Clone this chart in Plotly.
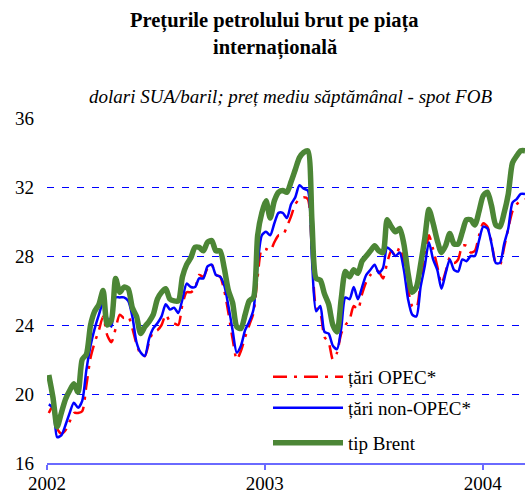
import pandas as pd
import plotly.graph_objects as go

# weekly observations, starting first Friday of 2002
start_date = "2002-01-04"

opec = [18.9, 19.3, 18.0, 17.7, 17.9, 18.4, 18.9, 18.9, 19.0, 20.5,
        22.1, 23.0, 23.7, 24.5, 23.4, 23.0, 23.8, 24.6, 24.4, 24.5,
        23.8, 22.9, 22.3, 22.2, 23.0, 23.6, 23.7, 24.0, 24.6, 24.2,
        24.1, 24.0, 25.2, 25.9, 25.9, 26.1, 26.9, 26.8, 27.3, 27.5,
        26.9, 26.8, 26.0, 24.7, 23.2, 22.0, 22.5, 23.3, 24.0, 24.7,
        26.8, 28.4, 28.4, 28.3, 28.8, 29.2, 29.2, 29.7, 30.3, 31.0,
        31.3, 31.4, 31.3, 28.2, 25.0, 24.7, 23.3, 23.0, 22.0, 22.4,
        23.5, 24.0, 24.3, 25.1, 24.9, 25.8, 26.5, 26.9, 27.2, 27.1,
        26.7, 27.6, 28.3, 28.0, 28.5, 27.6, 26.1, 25.1, 25.0, 26.4,
        27.7, 29.2, 28.4, 27.4, 26.4, 27.1, 27.9, 27.6, 27.8, 28.6,
        28.6, 28.2, 28.3, 29.2, 29.9, 29.7, 28.8, 27.6, 27.5, 28.5,
        29.6, 30.6, 31.0, 31.2, 31.3]

non_opec = [19.4, 19.2, 17.5, 17.6, 18.2, 18.9, 19.5, 19.2, 19.6, 21.4,
            22.8, 23.8, 24.6, 25.3, 24.4, 23.9, 25.6, 25.6, 25.6, 25.4,
            24.5, 23.0, 22.4, 22.2, 23.2, 23.8, 24.1, 24.5, 25.2, 24.9,
            25.0, 24.7, 25.5, 26.4, 26.2, 26.2, 26.7, 26.7, 27.4, 27.5,
            26.9, 26.8, 26.3, 25.1, 23.7, 22.4, 22.8, 23.7, 24.2, 24.9,
            27.5, 29.2, 29.4, 29.2, 29.9, 30.5, 30.5, 30.2, 31.0, 31.4,
            32.1, 31.9, 31.8, 27.8, 24.8, 25.1, 23.6, 23.5, 22.8, 22.6,
            23.8, 25.6, 25.5, 26.2, 25.5, 26.2, 26.9, 27.2, 27.5, 27.0,
            27.3, 28.5, 28.3, 28.0, 28.2, 27.2, 25.5, 24.6, 24.5, 26.2,
            27.4, 28.8, 27.8, 27.2, 26.1, 27.0, 27.8, 27.2, 27.1, 27.8,
            27.7, 28.0, 28.0, 28.9, 29.7, 29.6, 28.7, 27.6, 27.6, 28.7,
            29.6, 31.1, 31.3, 31.6, 31.6]

brent = [21.1, 19.8, 18.1, 18.9, 19.7, 20.2, 20.6, 20.1, 22.0, 22.3,
         24.0, 24.8, 25.2, 26.0, 24.0, 24.3, 26.7, 25.9, 26.2, 26.1,
         25.0, 24.5, 23.5, 23.9, 24.2, 24.6, 25.5, 25.9, 26.1, 25.5,
         25.4, 25.4, 26.8, 27.5, 27.9, 28.5, 28.5, 28.3, 28.8, 28.9,
         28.3, 28.3, 27.3, 26.0, 25.3, 23.9, 23.8, 24.6, 25.4, 25.6,
         29.2, 30.5, 31.2, 30.2, 31.2, 31.7, 31.8, 31.7, 32.3, 33.0,
         33.7, 34.0, 34.1, 30.0, 26.7, 26.6, 25.8, 25.2, 24.0, 23.6,
         25.5, 27.1, 26.8, 27.2, 27.0, 27.7, 28.0, 28.3, 28.6, 28.3,
         28.2, 30.1, 29.7, 29.4, 29.6, 28.7, 27.0, 25.9, 26.2, 27.5,
         29.0, 30.7, 29.9, 28.9, 28.2, 28.6, 29.3, 28.7, 28.7, 29.4,
         30.1, 30.1, 29.8, 30.6, 31.5, 31.7, 30.9, 29.8, 29.7, 30.5,
         31.6, 33.4, 33.8, 34.1, 34.1]

series_names = ["țări OPEC*", "țări non-OPEC*", "tip Brent"]
year_ticks = ["2002-01-01", "2003-01-01", "2004-01-01"]
year_labels = ["2002", "2003", "2004"]
y_ticks = [16, 20, 24, 28, 32, 36]

title_lines = ["Prețurile petrolului brut pe piața", "internațională"]
subtitle = "dolari SUA/baril; preț mediu săptămânal - spot FOB"

dates = pd.date_range(start_date, periods=len(brent), freq="W-FRI")

SERIF = "Liberation Serif, Times New Roman, serif"

fig = go.Figure()
fig.add_trace(go.Scatter(x=dates, y=opec, name=series_names[0], mode="lines",
                         line=dict(color="#FF0000", width=2.5, dash="14px,7px,3px,7px",
                                   shape="spline", smoothing=0.7),
                         legend="legend"))
fig.add_trace(go.Scatter(x=dates, y=non_opec, name=series_names[1], mode="lines",
                         line=dict(color="#0000FF", width=2.5, shape="spline", smoothing=0.7),
                         legend="legend2"))
fig.add_trace(go.Scatter(x=dates, y=brent, name=series_names[2], mode="lines",
                         line=dict(color="#4C8636", width=5.5, shape="spline", smoothing=0.7),
                         legend="legend3"))

W, H = 525, 495
L, R, T, B = 47, 0, 118, 32
pw, ph = W - L - R, H - T - B


def px_x(p):
    return (p - L) / pw


def px_y(p):
    return (H - B - p) / ph


leg_common = dict(bgcolor="rgba(0,0,0,0)", borderwidth=0, itemwidth=70,
                  font=dict(family=SERIF, size=19, color="#000000"),
                  xanchor="left", yanchor="middle", x=px_x(268))

fig.update_layout(
    width=W, height=H,
    margin=dict(l=L, r=R, t=T, b=B),
    paper_bgcolor="white", plot_bgcolor="white",
    font=dict(family=SERIF, size=19, color="#000000"),
    showlegend=True,
    legend=dict(**leg_common, y=px_y(377)),
    legend2=dict(**leg_common, y=px_y(408)),
    legend3=dict(**leg_common, y=px_y(443)),
    xaxis=dict(type="date", range=["2002-01-01", "2004-03-12"],
               tickvals=year_ticks, ticktext=year_labels,
               showgrid=False, zeroline=False,
               showline=True, linecolor="#6A6AFF", linewidth=1.5,
               ticks="outside", ticklen=5, tickcolor="#6A6AFF", tickwidth=1.5,
               ticklabelstandoff=-3,
               tickfont=dict(family=SERIF, size=19, color="#000000")),
    yaxis=dict(range=[16, 36], tickvals=y_ticks,
               showgrid=True, gridcolor="#0000FF", gridwidth=1, griddash="7px,8px",
               zeroline=False, showline=False, ticks="",
               ticklabelstandoff=12,
               tickfont=dict(family=SERIF, size=19, color="#000000")),
    shapes=[dict(type="rect", xref="paper", yref="paper", layer="between",
                 x0=px_x(240), x1=px_x(497), y0=px_y(456), y1=px_y(364),
                 fillcolor="white", line=dict(width=0))],
    annotations=[
        dict(text="<b>" + title_lines[0] + "</b>", xref="paper", yref="paper",
             x=px_x(274), y=px_y(21), showarrow=False, xanchor="center", yanchor="middle",
             font=dict(family=SERIF, size=20.5, color="#000000")),
        dict(text="<b>" + title_lines[1] + "</b>", xref="paper", yref="paper",
             x=px_x(275), y=px_y(48), showarrow=False, xanchor="center", yanchor="middle",
             font=dict(family=SERIF, size=20.5, color="#000000")),
        dict(text="<i>" + subtitle + "</i>", xref="paper", yref="paper",
             x=px_x(290), y=px_y(97), showarrow=False, xanchor="center", yanchor="middle",
             font=dict(family=SERIF, size=19, color="#000000")),
    ],
)

fig.write_html("out.html", config={"displayModeBar": False},
               post_script="document.body.style.margin='0';document.body.style.padding='0';")
